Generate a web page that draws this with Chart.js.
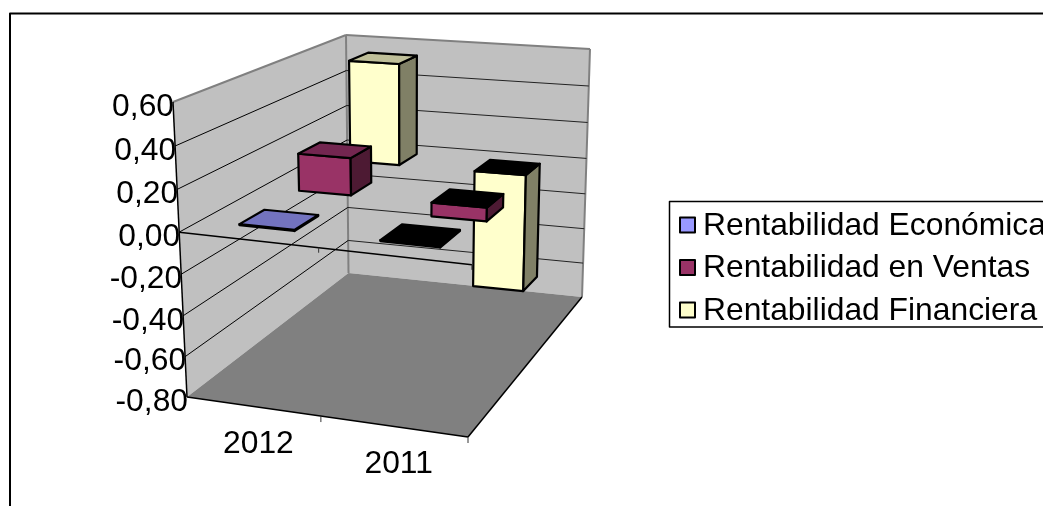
<!DOCTYPE html>
<html>
<head>
<meta charset="utf-8">
<style>
  html, body { margin: 0; padding: 0; background: #fff; overflow: hidden; }
  canvas { display: block; }
</style>
<script src="https://cdn.jsdelivr.net/npm/chart.js@4/dist/chart.umd.min.js"></script>
</head>
<body>
<canvas id="rentChart" width="1043" height="506"></canvas>
<script>
const categories = ["2012", "2011"];
const seriesNames = ["Rentabilidad Económica", "Rentabilidad en Ventas", "Rentabilidad Financiera"];
const economica = [0.005, -0.005];
const ventas = [0.19, -0.07];
const financiera = [0.545, -0.64];
const seriesValues = [economica, ventas, financiera];

const frontColors = ["#9999FF", "#993366", "#FFFFCC"];
const sideColors = ["#4D4D80", "#4D1A33", "#808066"];
const topColors = ["#7373BF", "#732650", "#BFBF99"];

const FONT = "31.8px 'Liberation Sans', Arial, sans-serif";

// corners of the 3D box on screen, and a perspective weight for each
// f/b = front/back, l/r = left/right, t/b = top/bottom
const corners = {
  flb: [187, 397, 1],      frb: [468, 437, 0.91],
  blb: [348.5, 273, 1.24], brb: [582, 297, 1.2],
  flt: [173, 102, 0.95],   frt: [475, 129, 0.865],
  blt: [346, 35, 1.178],   brt: [590, 49, 1.14]
};

// u along categories, d into the depth, v up the value axis, all 0..1
function project(u, d, v) {
  let x = 0, y = 0, w = 0;
  const add = (c, k) => { x += c[0] * c[2] * k; y += c[1] * c[2] * k; w += c[2] * k; };
  add(corners.flb, (1 - u) * (1 - d) * (1 - v));
  add(corners.frb, u * (1 - d) * (1 - v));
  add(corners.blb, (1 - u) * d * (1 - v));
  add(corners.brb, u * d * (1 - v));
  add(corners.flt, (1 - u) * (1 - d) * v);
  add(corners.frt, u * (1 - d) * v);
  add(corners.blt, (1 - u) * d * v);
  add(corners.brt, u * d * v);
  return [x / w, y / w];
}

function poly(ctx, pts, fill, stroke, lw) {
  ctx.beginPath();
  pts.forEach((p, i) => i ? ctx.lineTo(p[0], p[1]) : ctx.moveTo(p[0], p[1]));
  ctx.closePath();
  if (fill) { ctx.fillStyle = fill; ctx.fill(); }
  if (stroke) { ctx.strokeStyle = stroke; ctx.lineWidth = lw; ctx.stroke(); }
}

function line(ctx, a, b, color, lw) {
  ctx.beginPath();
  ctx.moveTo(a[0], a[1]);
  ctx.lineTo(b[0], b[1]);
  ctx.strokeStyle = color;
  ctx.lineWidth = lw;
  ctx.stroke();
}

const box3d = {
  id: "box3d",
  beforeDatasetsDraw(chart) {
    const ctx = chart.ctx;
    const area = chart.chartArea;
    const yScale = chart.scales.y;
    const uOf = px => (px - area.left) / area.width;
    const vOf = val => (area.bottom - yScale.getPixelForValue(val)) / area.height;

    ctx.save();
    ctx.lineJoin = "round";

    // outer frame, runs off the page on the right and bottom
    ctx.strokeStyle = "#000";
    ctx.lineWidth = 2;
    ctx.strokeRect(10, 13.5, 1200, 700);

    // walls and floor
    const c = corners;
    poly(ctx, [c.flt, c.blt, c.blb, c.flb], "#C0C0C0");
    poly(ctx, [c.blt, c.brt, c.brb, c.blb], "#C0C0C0");
    poly(ctx, [c.flb, c.blb, c.brb, c.frb], "#808080");
    line(ctx, c.flt, c.blt, "#808080", 2);
    line(ctx, c.blt, c.brt, "#808080", 2);
    line(ctx, c.brt, c.brb, "#808080", 2);
    line(ctx, c.blt, c.blb, "#808080", 2);

    // gridlines on both walls
    yScale.ticks.forEach(t => {
      const v = vOf(t.value);
      if (v <= 0.001 || v >= 0.999) return;
      line(ctx, project(0, 0, v), project(0, 1, v), "#000", 1);
      line(ctx, project(0, 1, v), project(1, 1, v), "#222", 1);
    });

    // value axis, floor edges, zero line
    line(ctx, c.flt, c.flb, "#000", 1.5);
    line(ctx, c.flb, c.frb, "#000", 1.5);
    line(ctx, c.frb, c.brb, "#000", 1.5);
    const v0 = vOf(0);
    line(ctx, project(0, 0, v0), project(1, 0, v0), "#000", 1.5);
    [0.5, 1].forEach(u => {
      const a = project(u, 0, v0);
      line(ctx, a, [a[0], a[1] + 5], "#333", 1);
      const b = project(u, 0, 0);
      line(ctx, b, [b[0], b[1] + 6], "#333", 1);
    });

    // bars, back series first so the nearer ones cover them
    for (let i = chart.data.datasets.length - 1; i >= 0; i--) {
      const meta = chart.getDatasetMeta(i);
      const d0 = (i + 0.3) / 3;
      const d1 = (i + 0.7) / 3;
      meta.data.forEach((bar, j) => {
        const val = seriesValues[i][j];
        const u0 = uOf(bar.x - bar.width / 2);
        const u1 = uOf(bar.x + bar.width / 2);
        const vTop = vOf(Math.max(val, 0));
        const vLow = vOf(Math.min(val, 0));
        poly(ctx, [project(u0, d0, vTop), project(u1, d0, vTop), project(u1, d0, vLow), project(u0, d0, vLow)],
          frontColors[i], "#000", 2.2);
        poly(ctx, [project(u1, d0, vTop), project(u1, d1, vTop), project(u1, d1, vLow), project(u1, d0, vLow)],
          sideColors[i], "#000", 2.2);
        // a negative bar shows a black cap at zero
        poly(ctx, [project(u0, d0, vTop), project(u1, d0, vTop), project(u1, d1, vTop), project(u0, d1, vTop)],
          val < 0 ? "#000" : topColors[i], "#000", 2.2);
      });
    }

    // axis text
    ctx.font = FONT;
    ctx.fillStyle = "#000";
    ctx.textBaseline = "middle";
    ctx.textAlign = "right";
    yScale.ticks.forEach(t => {
      const p = project(0, 0, vOf(t.value));
      ctx.fillText(t.label, p[0] + 1, p[1] + 5);
    });
    ctx.textAlign = "center";
    chart.scales.x.ticks.forEach((t, i) => {
      const p = project(uOf(chart.scales.x.getPixelForTick(i)), 0, 0);
      ctx.fillText(t.label, p[0] + 6, p[1] + 38);
    });

    // legend box, cut off by the page edge like the original
    ctx.strokeStyle = "#000";
    ctx.lineWidth = 1.5;
    ctx.strokeRect(669.5, 201.5, 600, 125.5);
    ctx.textAlign = "left";
    chart.data.datasets.forEach((ds, i) => {
      const y = 225 + i * 42.5;
      ctx.fillStyle = ds.backgroundColor;
      ctx.fillRect(680, y - 7.5, 15, 15);
      ctx.strokeStyle = "#000";
      ctx.lineWidth = 2;
      ctx.strokeRect(680, y - 7.5, 15, 15);
      ctx.fillStyle = "#000";
      ctx.fillText(ds.label, 703, y + 1);
    });

    ctx.restore();
    return false; // the flat bars are replaced by the ones above
  }
};

new Chart(document.getElementById("rentChart"), {
  type: "bar",
  data: {
    labels: categories,
    datasets: seriesNames.map((name, i) => ({
      label: name,
      data: seriesValues[i],
      backgroundColor: frontColors[i],
      grouped: false,
      categoryPercentage: 0.4,
      barPercentage: 1
    }))
  },
  options: {
    responsive: false,
    animation: false,
    layout: { padding: 0 },
    plugins: { legend: { display: false }, tooltip: { enabled: false } },
    scales: {
      x: { display: false },
      y: {
        display: false,
        min: -0.8,
        max: 0.6,
        ticks: {
          stepSize: 0.2,
          callback: v => (Math.abs(v) < 1e-9 ? 0 : v).toFixed(2).replace(".", ",")
        }
      }
    }
  },
  plugins: [box3d]
});
</script>
</body>
</html>
